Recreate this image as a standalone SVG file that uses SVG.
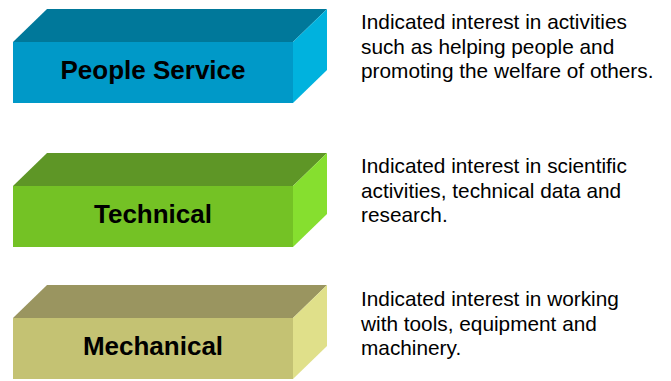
<svg xmlns="http://www.w3.org/2000/svg" width="671" height="381" viewBox="0 0 671 381">
<style>
.lbl{font-family:"Liberation Sans",Arial,sans-serif;font-weight:bold;font-size:26px;fill:#000;text-anchor:middle}
.desc{font-family:"Liberation Sans",Arial,sans-serif;font-size:20.8px;fill:#000}
</style>
<rect width="671" height="381" fill="#fff"/>
<g id="people-service">
<polygon points="13,42 47,9 327,9 293,42" fill="#00789A"/>
<polygon points="293,42 327,9 327,70 293,103" fill="#00B2DE"/>
<rect x="13" y="42" width="280" height="61" fill="#0099C8"/>
<text class="lbl" x="153" y="79">People Service</text>
</g>
<g id="technical">
<polygon points="13,186 47,153 327,153 293,186" fill="#5E9626"/>
<polygon points="293,186 327,153 327,214 293,247" fill="#86DF2F"/>
<rect x="13" y="186" width="280" height="61" fill="#74C225"/>
<text class="lbl" x="153" y="223">Technical</text>
</g>
<g id="mechanical">
<polygon points="13,318 47,285 327,285 293,318" fill="#9A9560"/>
<polygon points="293,318 327,285 327,346 293,379" fill="#E0E08A"/>
<rect x="13" y="318" width="280" height="61" fill="#C4C273"/>
<text class="lbl" x="153" y="355">Mechanical</text>
</g>
<g id="desc-people">
<text class="desc" x="361" y="29">Indicated interest in activities</text>
<text class="desc" x="361" y="53.5">such as helping people and</text>
<text class="desc" x="361" y="78">promoting the welfare of others.</text>
</g>
<g id="desc-technical">
<text class="desc" x="361" y="173">Indicated interest in scientific</text>
<text class="desc" x="361" y="197.5">activities, technical data and</text>
<text class="desc" x="361" y="222">research.</text>
</g>
<g id="desc-mechanical">
<text class="desc" x="361" y="306">Indicated interest in working</text>
<text class="desc" x="361" y="330.5">with tools, equipment and</text>
<text class="desc" x="361" y="355">machinery.</text>
</g>
<g id="connectors"/>
</svg>
